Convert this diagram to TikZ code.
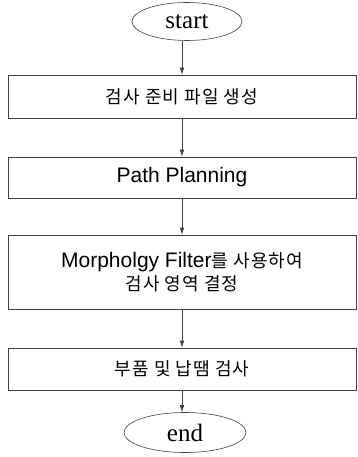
\documentclass[tikz,border=0pt]{standalone}
\usepackage{fontspec}
\setmainfont{Liberation Serif}
\newfontfamily\sansfont{Liberation Sans}
\newfontfamily\krfont[LetterSpace=6]{Noto Sans CJK KR}
\usetikzlibrary{arrows.meta,shapes.geometric}
\begin{document}
\begin{tikzpicture}[x=1pt,y=-1pt,
  line/.style={draw=black!75,line width=0.6pt},
  term/.style={line,ellipse,inner sep=0pt,font=\fontsize{25}{28}\selectfont},
  stepbox/.style={line,rectangle,minimum width=348pt,inner sep=0pt},
  kr/.style={font=\krfont\fontsize{18}{22}\selectfont},
  arr/.style={line,-{Latex[length=7pt,width=4.5pt]}}]
\useasboundingbox (0,0) rectangle (358,457);
\node[term,minimum width=110pt,minimum height=38pt] (start) at (187,21.5) {start};
\node[stepbox,minimum height=43pt,kr] (b1) at (182,96.5) {검사 준비 파일 생성};
\node[stepbox,minimum height=41pt,font=\sansfont\fontsize{21}{24}\selectfont] (b2) at (182,177.5) {Path Planning};
\node[stepbox,minimum height=74pt,align=center,font=\fontsize{18}{23}\selectfont] (b3) at (182,272)
  {{\sansfont\fontsize{21}{23}\selectfont Morpholgy Filter}{\krfont 를 사용하여}\\
   {\krfont 검사 영역 결정}};
\node[stepbox,minimum height=42pt,kr] (b4) at (182,369) {부품 및 납땜 검사};
\node[term,minimum width=122pt,minimum height=40pt] (end) at (185,432.5) {end};
\draw[arr] (start.south -| b1.north) -- (b1.north);
\draw[arr] (b1) -- (b2);
\draw[arr] (b2) -- (b3);
\draw[arr] (b3) -- (b4);
\draw[arr] (b4.south) -- (b4.south |- end.north);
\end{tikzpicture}
\end{document}
